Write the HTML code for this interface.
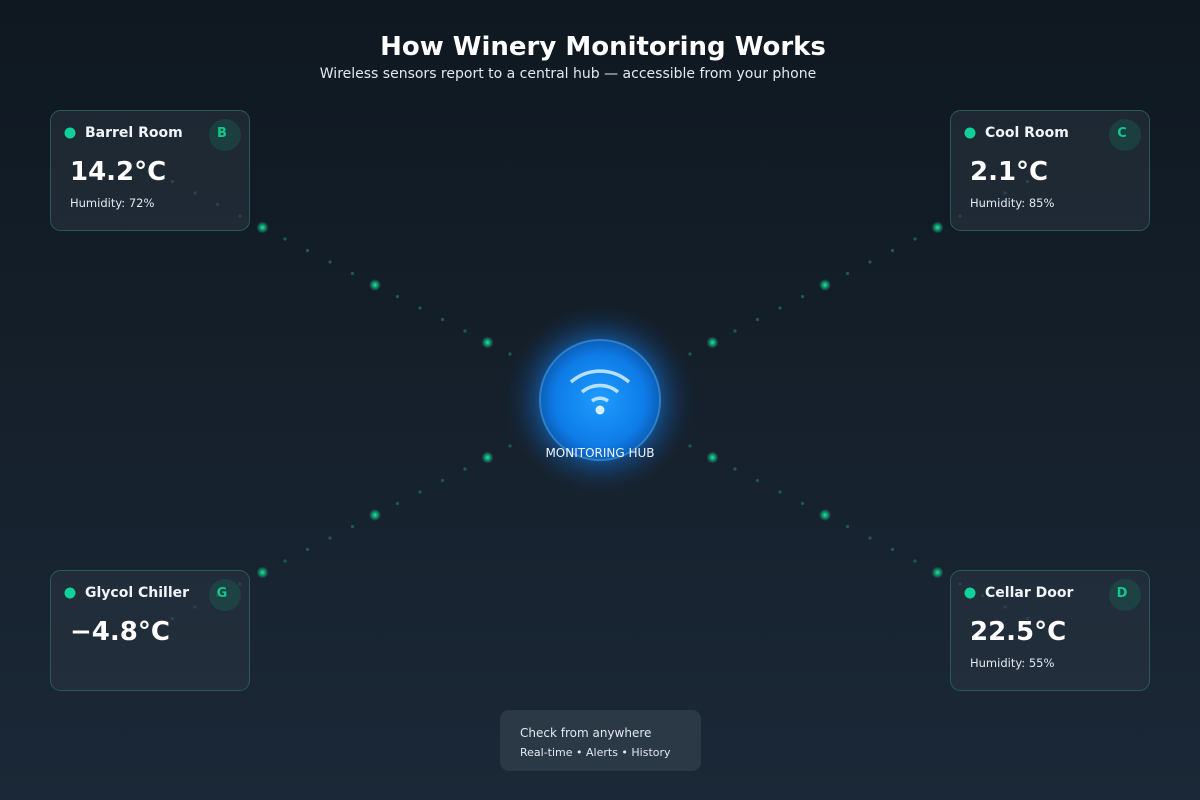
<!DOCTYPE html>
<html><head><meta charset="utf-8"><style>
html,body{margin:0;padding:0;width:1200px;height:800px;overflow:hidden}
svg{display:block;font-family:"DejaVu Sans","Liberation Sans",sans-serif}
</style></head><body>
<svg width="1200" height="800" viewBox="0 0 1200 800" xmlns="http://www.w3.org/2000/svg">
<defs>
<linearGradient id="bg" x1="0" y1="0" x2="0" y2="1"><stop offset="0" stop-color="#0f1820"/><stop offset="1" stop-color="#1b2837"/></linearGradient>
<radialGradient id="hub" cx="0.5" cy="0.5" r="0.5"><stop offset="0" stop-color="#1e9cff"/><stop offset="0.75" stop-color="#0e7ce8"/><stop offset="1" stop-color="#0b5fb8"/></radialGradient>
<radialGradient id="glow" cx="0.5" cy="0.5" r="0.5"><stop offset="0.5" stop-color="#1677dd" stop-opacity="0.9"/><stop offset="0.7" stop-color="#135fb0" stop-opacity="0.45"/><stop offset="1" stop-color="#15304f" stop-opacity="0"/></radialGradient>
<radialGradient id="gd" cx="0.5" cy="0.5" r="0.5"><stop offset="0" stop-color="#2ee6a8"/><stop offset="0.4" stop-color="#10b981" stop-opacity="0.8"/><stop offset="1" stop-color="#10b981" stop-opacity="0"/></radialGradient>
<g id="dots" fill="#1f5a55">
<circle cx="172.5" cy="181.5" r="1.6"/><circle cx="195" cy="193" r="1.6"/><circle cx="217.5" cy="204.5" r="1.6"/><circle cx="240" cy="216" r="1.6"/>
<circle cx="262.5" cy="227.5" r="6" fill="url(#gd)"/>
<circle cx="285" cy="239" r="1.6"/><circle cx="307.5" cy="250.5" r="1.6"/><circle cx="330" cy="262" r="1.6"/><circle cx="352.5" cy="273.5" r="1.6"/>
<circle cx="375" cy="285" r="6" fill="url(#gd)"/>
<circle cx="397.5" cy="296.5" r="1.6"/><circle cx="420" cy="308" r="1.6"/><circle cx="442.5" cy="319.5" r="1.6"/><circle cx="465" cy="331" r="1.6"/>
<circle cx="487.5" cy="342.5" r="6" fill="url(#gd)"/>
<circle cx="510" cy="354" r="1.6"/>
</g>
</defs>
<rect width="1200" height="800" fill="url(#bg)"/>
<text x="603" y="55" text-anchor="middle" font-size="26" font-weight="bold" fill="#fff">How Winery Monitoring Works</text>
<text x="568" y="78" text-anchor="middle" font-size="14" fill="#e2e8f0">Wireless sensors report to a central hub — accessible from your phone</text>

<use href="#dots"/>
<use href="#dots" transform="translate(1200,0) scale(-1,1)"/>
<use href="#dots" transform="translate(0,800) scale(1,-1)"/>
<use href="#dots" transform="translate(1200,800) scale(-1,-1)"/>

<circle cx="600" cy="400" r="95" fill="url(#glow)"/>
<circle cx="600" cy="400" r="60" fill="url(#hub)" stroke="#2f7fc8" stroke-width="2"/>
<g fill="none" stroke="#b5e0ff" stroke-width="3.5" stroke-linecap="butt">
<path d="M571,382 A44,44 0 0 1 629,382"/>
<path d="M582,392 A28,28 0 0 1 618,392"/>
<path d="M592,401 A13,13 0 0 1 608,401"/>
</g>
<circle cx="600" cy="410" r="4.5" fill="#d6efff"/>
<text x="600" y="457" text-anchor="middle" font-size="12" fill="#f0f6ff">MONITORING HUB</text>

<g>
<rect x="50.5" y="110.5" width="199" height="120" rx="10" fill="#2a3542" fill-opacity="0.55" stroke="#2a5a58"/>
<circle cx="70" cy="133" r="5.5" fill="#10d19a"/>
<text x="85" y="137" font-size="14" font-weight="bold" fill="#f1f5f9">Barrel Room</text>
<circle cx="225" cy="135" r="16" fill="#10b981" fill-opacity="0.15"/>
<text x="222" y="137" text-anchor="middle" font-size="13" font-weight="bold" fill="#10c98d">B</text>
<text x="70" y="180" font-size="26" font-weight="bold" fill="#fff">14.2°C</text>
<text x="70" y="207" font-size="11.5" fill="#e2e8f0">Humidity: 72%</text>
</g>
<g>
<rect x="950.5" y="110.5" width="199" height="120" rx="10" fill="#2a3542" fill-opacity="0.55" stroke="#2a5a58"/>
<circle cx="970" cy="133" r="5.5" fill="#10d19a"/>
<text x="985" y="137" font-size="14" font-weight="bold" fill="#f1f5f9">Cool Room</text>
<circle cx="1125" cy="135" r="16" fill="#10b981" fill-opacity="0.15"/>
<text x="1122" y="137" text-anchor="middle" font-size="13" font-weight="bold" fill="#10c98d">C</text>
<text x="970" y="180" font-size="26" font-weight="bold" fill="#fff">2.1°C</text>
<text x="970" y="207" font-size="11.5" fill="#e2e8f0">Humidity: 85%</text>
</g>
<g>
<rect x="50.5" y="570.5" width="199" height="120" rx="10" fill="#2a3542" fill-opacity="0.55" stroke="#2a5a58"/>
<circle cx="70" cy="593" r="5.5" fill="#10d19a"/>
<text x="85" y="597" font-size="14" font-weight="bold" fill="#f1f5f9">Glycol Chiller</text>
<circle cx="225" cy="595" r="16" fill="#10b981" fill-opacity="0.15"/>
<text x="222" y="597" text-anchor="middle" font-size="13" font-weight="bold" fill="#10c98d">G</text>
<text x="70" y="640" font-size="26" font-weight="bold" fill="#fff">−4.8°C</text>
</g>
<g>
<rect x="950.5" y="570.5" width="199" height="120" rx="10" fill="#2a3542" fill-opacity="0.55" stroke="#2a5a58"/>
<circle cx="970" cy="593" r="5.5" fill="#10d19a"/>
<text x="985" y="597" font-size="14" font-weight="bold" fill="#f1f5f9">Cellar Door</text>
<circle cx="1125" cy="595" r="16" fill="#10b981" fill-opacity="0.15"/>
<text x="1122" y="597" text-anchor="middle" font-size="13" font-weight="bold" fill="#10c98d">D</text>
<text x="970" y="640" font-size="26" font-weight="bold" fill="#fff">22.5°C</text>
<text x="970" y="667" font-size="11.5" fill="#e2e8f0">Humidity: 55%</text>
</g>

<rect x="500" y="710" width="201" height="61" rx="9" fill="#2b3846"/>
<text x="520" y="737" font-size="12" fill="#e2e8f0">Check from anywhere</text>
<text x="520" y="756" font-size="11" fill="#e2e8f0">Real-time • Alerts • History</text>
</svg>
</body></html>
